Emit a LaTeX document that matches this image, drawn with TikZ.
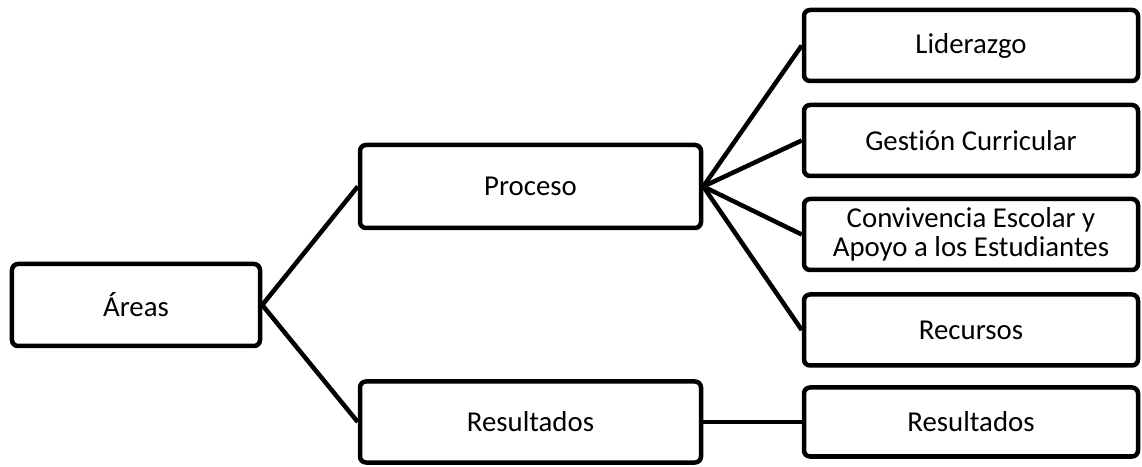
\documentclass[tikz,border=0pt]{standalone}
\usepackage{fontspec}
\setmainfont{Carlito}[Ligatures={NoCommon}]
\begin{document}
\begin{tikzpicture}[x=1bp,y=-1bp,
  box/.style={draw=black, line width=4.5bp, rounded corners=6bp, fill=white,
    inner sep=0pt, align=center, font=\fontsize{28.8bp}{29bp}\selectfont},
  leftbox/.style={box, minimum width=341bp, minimum height=83bp},
  rightbox/.style={box, minimum width=334bp, minimum height=71bp},
  link/.style={draw=black, line width=4.5bp}]
\useasboundingbox (0,0) rectangle (1142,467);
\node[box, minimum width=248bp, minimum height=82bp] (areas) at (136,305) {Áreas};
\node[leftbox] (proceso) at (530.5,186.5) {Proceso};
\node[leftbox, minimum height=81bp] (res1) at (530.5,422) {Resultados};
\node[rightbox] (lid) at (971,45.5) {Liderazgo};
\node[rightbox] (ges) at (971,140.5) {Gestión Curricular};
\node[rightbox] (con) at (971,234.5) {Convivencia Escolar y\\Apoyo a los Estudiantes};
\node[rightbox] (rec) at (971,330) {Recursos};
\node[rightbox, minimum height=69bp] (res2) at (971,422) {Resultados};
\draw[link] (areas.east) -- (proceso.west);
\draw[link] (areas.east) -- (res1.west);
\draw[link] (proceso.east) -- (lid.west);
\draw[link] (proceso.east) -- (ges.west);
\draw[link] (proceso.east) -- (con.west);
\draw[link] (proceso.east) -- (rec.west);
\draw[link] (res1.east) -- (res2.west);
\end{tikzpicture}
\end{document}
